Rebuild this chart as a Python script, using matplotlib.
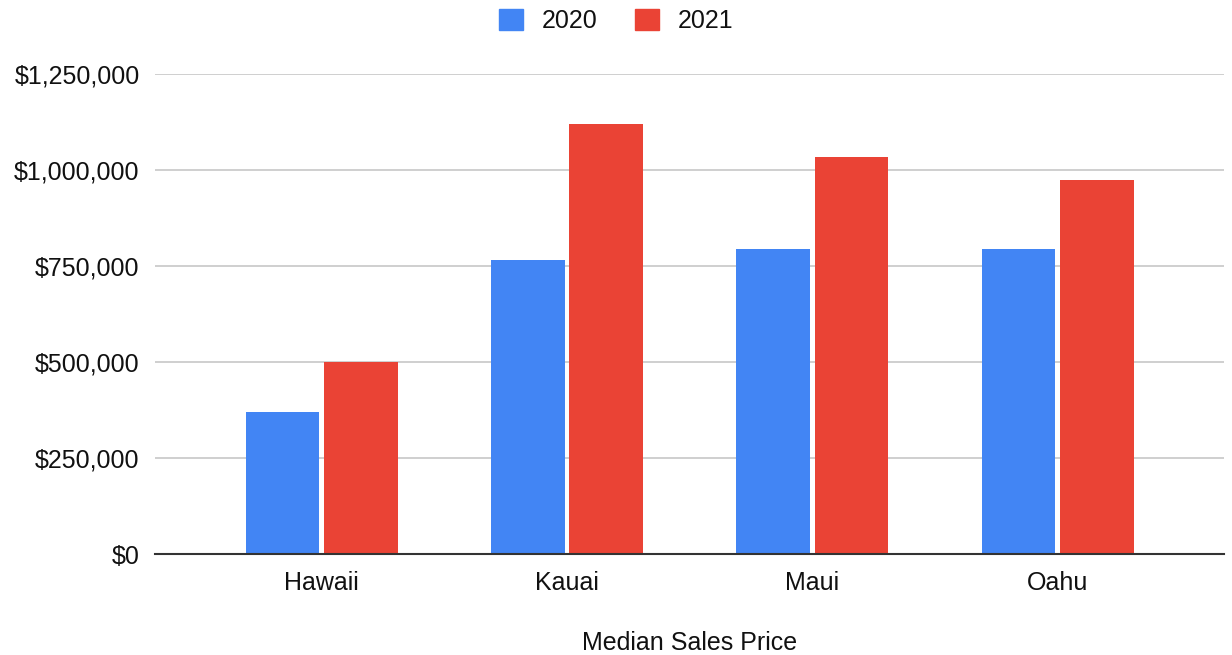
import numpy as np
import matplotlib.pyplot as plt
from matplotlib.ticker import FuncFormatter
from matplotlib.patches import Patch

islands = ['Hawaii', 'Kauai', 'Maui', 'Oahu']
years = ['2020', '2021']
price_2020 = [370000, 767000, 796000, 796000]
price_2021 = [500000, 1120000, 1035000, 974000]
colors = ['#4285F4', '#EA4335']

plt.rcParams['font.family'] = ['Liberation Sans', 'DejaVu Sans']

fig = plt.figure(figsize=(12.32, 6.55), dpi=100)
ax = fig.add_axes([0.1258, 0.1537, 0.868, 0.733])

x = np.arange(len(islands))
w = 0.30
ax.bar(x - 0.16, price_2020, w, color=colors[0], zorder=3)
ax.bar(x + 0.16, price_2021, w, color=colors[1], zorder=3)

ax.set_xlim(-0.68, 3.68)
ax.set_ylim(0, 1250000)
ax.set_yticks(np.arange(0, 1250001, 250000))
ax.yaxis.set_major_formatter(FuncFormatter(lambda v, p: '${:,.0f}'.format(v)))
ax.set_xticks(x)
ax.set_xticklabels(islands)
ax.tick_params(axis='both', length=0, labelsize=18, colors='#111111')
ax.tick_params(axis='x', pad=12)
ax.tick_params(axis='y', pad=11)
ax.grid(axis='y', color='#cccccc', linewidth=1.3, zorder=0)
for s in ['top', 'right', 'left']:
    ax.spines[s].set_visible(False)
ax.spines['bottom'].set_color('#333333')
ax.spines['bottom'].set_linewidth(1.5)
ax.spines['bottom'].set_zorder(4)
ax.set_xlabel('Median Sales Price', fontsize=18, color='#111111', labelpad=26)

handles = [Patch(color=c, label=y) for c, y in zip(colors, years)]
fig.legend(handles=handles, loc='center', bbox_to_anchor=(0.5, 0.968), ncol=2,
           frameon=False, fontsize=18, handlelength=0.95, handleheight=0.95,
           handletextpad=0.75, columnspacing=1.5, labelcolor='#111111')

fig.savefig('out.png', dpi=100)
